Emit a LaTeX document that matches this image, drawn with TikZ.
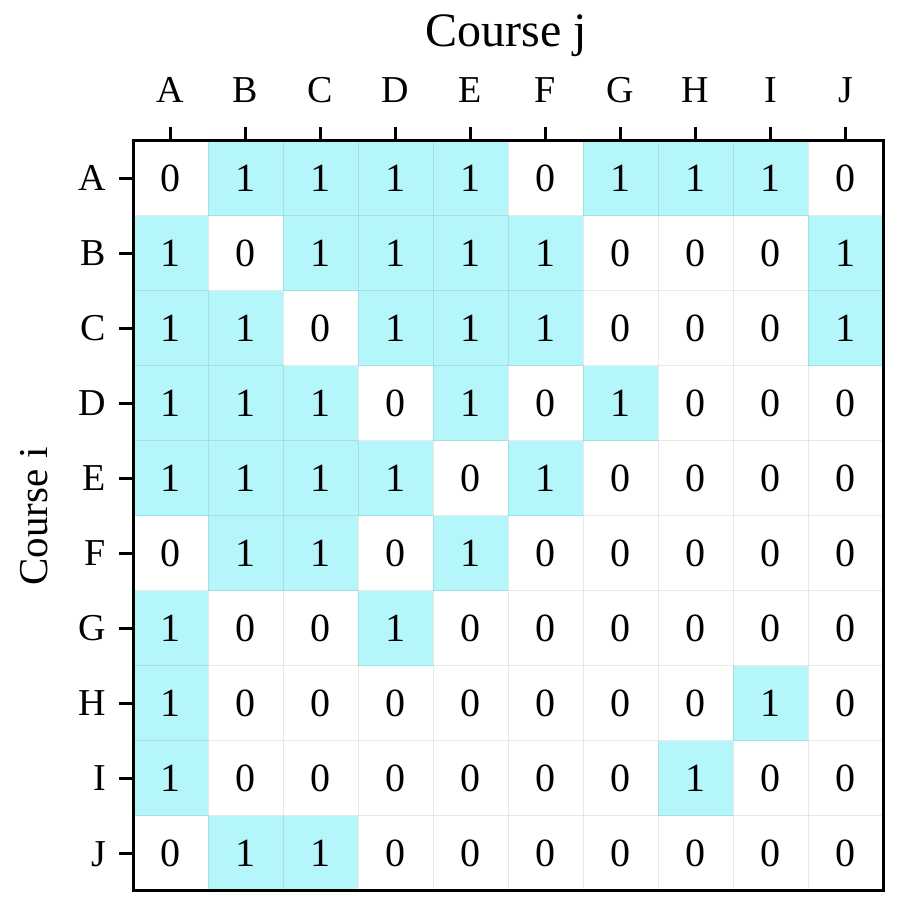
\documentclass[tikz,border=0pt]{standalone}
\usepackage{fontspec}
\setmainfont{Liberation Serif}
\definecolor{cellcyan}{RGB}{180,246,250}
\definecolor{gridgray}{RGB}{40,40,40}
\tikzset{
  lbl/.style={inner sep=0pt, anchor=base, font=\fontsize{38}{40}\selectfont},
  val/.style={inner sep=0pt, anchor=base, font=\fontsize{40}{42}\selectfont},
  tickline/.style={line width=2.8pt, black},
  frameline/.style={line width=3pt, black},
  gridline/.style={line width=1pt, draw=gridgray, draw opacity=0.1},
}
\begin{document}
\begin{tikzpicture}[x=1pt,y=1pt]
\useasboundingbox (0,0) rectangle (900,900);
% cells
\foreach \row [count=\i from 0] in {
  {0,1,1,1,1,0,1,1,1,0},
  {1,0,1,1,1,1,0,0,0,1},
  {1,1,0,1,1,1,0,0,0,1},
  {1,1,1,0,1,0,1,0,0,0},
  {1,1,1,1,0,1,0,0,0,0},
  {0,1,1,0,1,0,0,0,0,0},
  {1,0,0,1,0,0,0,0,0,0},
  {1,0,0,0,0,0,0,0,1,0},
  {1,0,0,0,0,0,0,1,0,0},
  {0,1,1,0,0,0,0,0,0,0}} {
  \foreach \v [count=\j from 0] in \row {
    \pgfmathsetmacro{\xl}{133+75*\j}
    \pgfmathsetmacro{\yt}{759-75*\i}
    \ifnum\v=1
      \fill[cellcyan] (\xl,\yt) rectangle ++(75,-75);
    \fi
    \node[val] (c-\i-\j) at (\xl+37.5,\yt-37.5-13.5) {\v};
  }
}
% grid
\foreach \k in {1,...,9} {
  \draw[gridline] (133+75*\k,9) -- (133+75*\k,759);
  \draw[gridline] (133,9+75*\k) -- (883,9+75*\k);
}
% frame
\draw[frameline] (133,9) rectangle (883,759);
% ticks and labels
\foreach \L [count=\k from 0] in {A,B,C,D,E,F,G,H,I,J} {
  \draw[tickline] (170.5+75*\k,759) -- ++(0,14);
  \node[lbl] (top-\k) at (170.5+75*\k,797.5) {\L};
  \draw[tickline] (133,721.5-75*\k) -- ++(-14,0);
  \node[lbl,anchor=base east] (left-\k) at (106,709-75*\k) {\L};
}
\node[inner sep=0pt, anchor=base, font=\fontsize{48}{50}\selectfont] (title) at (506,853) {Course j};
\node[inner sep=0pt, anchor=base, rotate=90, font=\fontsize{41}{43}\selectfont] (ylabel) at (47,383.5) {Course i};
\end{tikzpicture}
\end{document}
